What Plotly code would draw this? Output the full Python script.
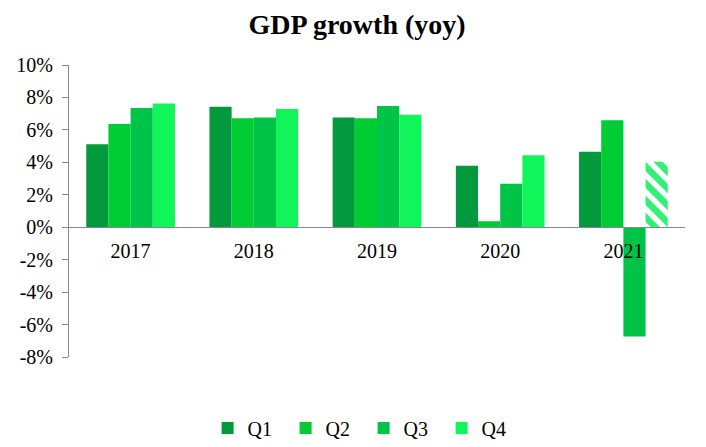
import plotly.graph_objects as go

years = ["2017", "2018", "2019", "2020", "2021"]
q1 = [5.12, 7.43, 6.77, 3.79, 4.65]
q2 = [6.36, 6.71, 6.71, 0.37, 6.60]
q3 = [7.35, 6.77, 7.47, 2.68, -6.73]
q4_actual = [7.63, 7.28, 6.94, 4.44, None]
q4_forecast = [None, None, None, None, 4.03]
series_names = ["Q1", "Q2", "Q3", "Q4"]
colors = ["#039A3D", "#00CC33", "#00C447", "#10F55A"]
y_ticks = [-8, -6, -4, -2, 0, 2, 4, 6, 8, 10]
y_labels = [f"{v}%" for v in y_ticks]

font_family = "Liberation Serif"

fig = go.Figure()
for i, (name, vals, col) in enumerate(zip(series_names, [q1, q2, q3, q4_actual], colors)):
    fig.add_trace(go.Bar(
        x=years, y=vals, name=name, offsetgroup=str(i),
        marker=dict(color=col, line=dict(width=0)),
    ))

fig.add_trace(go.Bar(
    x=years, y=q4_forecast, name="Q4 (forecast)", offsetgroup="3", showlegend=False,
    marker=dict(
        color="white",
        line=dict(width=0),
        pattern=dict(shape="\\", fgcolor="#33EE77", bgcolor="white",
                     fillmode="replace", size=12, solidity=0.55),
    ),
))

fig.update_layout(
    width=698,
    height=439,
    paper_bgcolor="white",
    plot_bgcolor="white",
    barmode="group",
    bargap=0.28,
    bargroupgap=0,
    margin=dict(l=61, r=21, t=57, b=90, autoexpand=False),
    font=dict(family=font_family, size=20, color="black"),
    title=dict(
        text="<b>GDP growth (yoy)</b>",
        x=0.5,
        xanchor="center",
        y=0.9636,
        yanchor="middle",
        font=dict(family=font_family, size=28, color="black"),
    ),
    showlegend=True,
    legend=dict(
        orientation="h",
        x=0.225,
        xanchor="left",
        y=-0.243,
        yanchor="middle",
        font=dict(family=font_family, size=20, color="black"),
        entrywidth=33,
        entrywidthmode="pixels",
        itemwidth=30,
    ),
    xaxis=dict(
        type="category",
        anchor="free",
        position=8 / 18,
        showline=True,
        linecolor="#888888",
        linewidth=1,
        ticks="",
        ticklabelstandoff=6,
        showgrid=False,
        tickfont=dict(family=font_family, size=20, color="black"),
        range=[-0.5, 4.5],
    ),
    yaxis=dict(
        range=[-8, 10],
        tickvals=y_ticks,
        ticktext=y_labels,
        showgrid=False,
        zeroline=False,
        showline=True,
        linecolor="#888888",
        linewidth=1,
        ticks="outside",
        ticklen=6,
        tickcolor="#888888",
        ticklabelstandoff=5,
        tickfont=dict(family=font_family, size=20, color="black"),
    ),
)

fig.write_html("out.html")
